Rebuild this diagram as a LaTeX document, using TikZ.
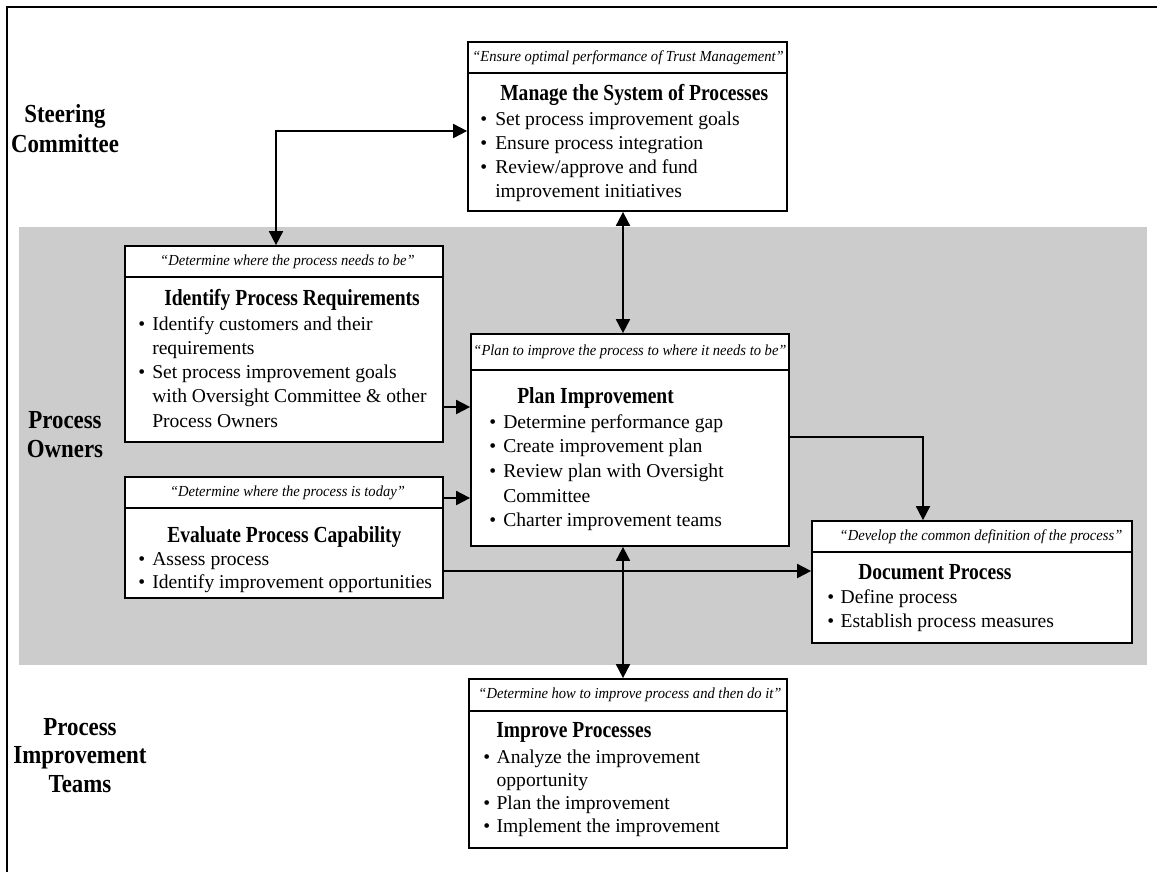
\documentclass[tikz,border=0pt]{standalone}
\usepackage{fontspec}
\setmainfont{Liberation Serif}
\newfontfamily\hdrfont{Liberation Serif}[FakeStretch=0.95]
\newfontfamily\ttlfont{Liberation Serif}[FakeStretch=0.85]
\newfontfamily\lblfont{Liberation Serif}[FakeStretch=0.88]
\usetikzlibrary{arrows.meta,fit}

\newlength\bulw
% bullet list: #1 bullet column width, #2 line spacing, #3 lines
\newcommand\blist[3]{\parbox[t]{300pt}{\raggedright\fontsize{14.7}{#2}\selectfont\setlength{\bulw}{#1}#3}}
\newcommand\itm[1]{\makebox[\bulw][l]{\textbullet}#1}
\newcommand\cnt[1]{\hspace*{\bulw}#1}
% stacked group label, #1 line spacing, #2 lines
\newcommand\grp[2]{\parbox[t]{150pt}{\centering\lblfont\bfseries\fontsize{19.5}{#1}\selectfont #2}}

\tikzset{
  box/.style={draw, line width=1.3pt, fill=white, inner sep=0pt},
  div/.style={line width=1.1pt},
  hdr/.style={inner sep=0pt, font=\hdrfont\itshape\fontsize{11.5}{14}\selectfont},
  ttl/.style={anchor=base west, inner sep=0pt, font=\ttlfont\bfseries\fontsize{17.25}{20}\selectfont},
  lst/.style={anchor=base west, inner sep=0pt},
  grplbl/.style={anchor=base, inner sep=0pt},
  tip/.tip={Triangle[length=10.5pt,width=10.5pt]},
  arr/.style={line width=1.35pt, -tip},
  both/.style={line width=1.35pt, tip-tip},
}

\begin{document}
\begin{tikzpicture}[x=0.75pt,y=-0.75pt]
\useasboundingbox (0,0) rectangle (1157,872);

% page frame (top and left edges)
\draw[line width=1.8pt] (7,872) -- (7,7) -- (1157,7);

% process owners band
\fill[black!20] (19,227) rectangle (1147,665);

% group labels
\node[grplbl] (gSC) at (65,122) {\grp{22.5pt}{Steering\\Committee}};
\node[grplbl] (gPO) at (65,428) {\grp{21.75pt}{Process\\Owners}};
\node[grplbl] (gPT) at (80,735) {\grp{21.4pt}{Process\\Improvement\\Teams}};

% Manage the System of Processes
\node[box, fit={(468,42) (787,211)}] (man) {};
\draw[div] (468,73) -- (787,73);
\node[hdr] (manH) at (628,57.5) {“Ensure optimal performance of Trust Management”};
\node[ttl] (manT) at (500,100) {Manage the System of Processes};
\node[lst] (manL) at (480,125) {\blist{11.25pt}{18pt}{%
  \itm{Set process improvement goals}\\
  \itm{Ensure process integration}\\
  \itm{Review/approve and fund}\\
  \cnt{improvement initiatives}}};

% Identify Process Requirements
\node[box, fit={(125,246) (443,442)}] (idr) {};
\draw[div] (125,277) -- (443,277);
\node[hdr] (idrH) at (287.5,261.5) {“Determine where the process needs to be”};
\node[ttl] (idrT) at (164,305) {Identify Process Requirements};
\node[lst] (idrL) at (138,330) {\blist{10.5pt}{18.2pt}{%
  \itm{Identify customers and their}\\
  \cnt{requirements}\\
  \itm{Set process improvement goals}\\
  \cnt{with Oversight Committee \& other}\\
  \cnt{Process Owners}}};

% Evaluate Process Capability
\node[box, fit={(125,477) (443,598)}] (evl) {};
\draw[div] (125,508) -- (443,508);
\node[hdr] (evlH) at (287.5,492.5) {“Determine where the process is today”};
\node[ttl] (evlT) at (167,542) {Evaluate Process Capability};
\node[lst] (evlL) at (138,565) {\blist{10.5pt}{17.5pt}{%
  \itm{Assess process}\\
  \itm{Identify improvement opportunities}}};

% Plan Improvement
\node[box, fit={(471,334) (789,546)}] (pln) {};
\draw[div] (471,370) -- (789,370);
\node[hdr] (plnH) at (630,352) {“Plan to improve the process to where it needs to be”};
\node[ttl] (plnT) at (517,403) {Plan Improvement};
\node[lst] (plnL) at (489,428) {\blist{10.5pt}{18.5pt}{%
  \itm{Determine performance gap}\\
  \itm{Create improvement plan}\\
  \itm{Review plan with Oversight}\\
  \cnt{Committee}\\
  \itm{Charter improvement teams}}};

% Document Process
\node[box, fit={(812,521) (1132,643)}] (doc) {};
\draw[div] (812,552) -- (1132,552);
\node[hdr] (docH) at (981,536.5) {“Develop the common definition of the process”};
\node[ttl] (docT) at (858,579) {Document Process};
\node[lst] (docL) at (827,603) {\blist{10pt}{18pt}{%
  \itm{Define process}\\
  \itm{Establish process measures}}};

% Improve Processes
\node[box, fit={(469,679) (787,848)}] (imp) {};
\draw[div] (469,711) -- (787,711);
\node[hdr] (impH) at (630,695) {“Determine how to improve process and then do it”};
\node[ttl] (impT) at (496,737) {Improve Processes};
\node[lst] (impL) at (483,763) {\blist{10pt}{17.3pt}{%
  \itm{Analyze the improvement}\\
  \cnt{opportunity}\\
  \itm{Plan the improvement}\\
  \itm{Implement the improvement}}};

% connector guide positions
\coordinate (xSC) at (276,0);
\coordinate (ySC) at (0,131);
\coordinate (xV) at (623,0);
\coordinate (yIP) at (0,407);
\coordinate (yEP) at (0,498);
\coordinate (yED) at (0,571);
\coordinate (yPD) at (0,437);
\coordinate (xPD) at (923,0);

% connectors
\draw[both] (idr.north -| xSC) |- (man.west |- ySC);
\draw[both] (man.south -| xV) -- (pln.north -| xV);
\draw[both] (pln.south -| xV) -- (imp.north -| xV);
\draw[arr] (idr.east |- yIP) -- (pln.west |- yIP);
\draw[arr] (evl.east |- yEP) -- (pln.west |- yEP);
\draw[arr] (evl.east |- yED) -- (doc.west |- yED);
\draw[arr] (pln.east |- yPD) -| (doc.north -| xPD);
\end{tikzpicture}
\end{document}
